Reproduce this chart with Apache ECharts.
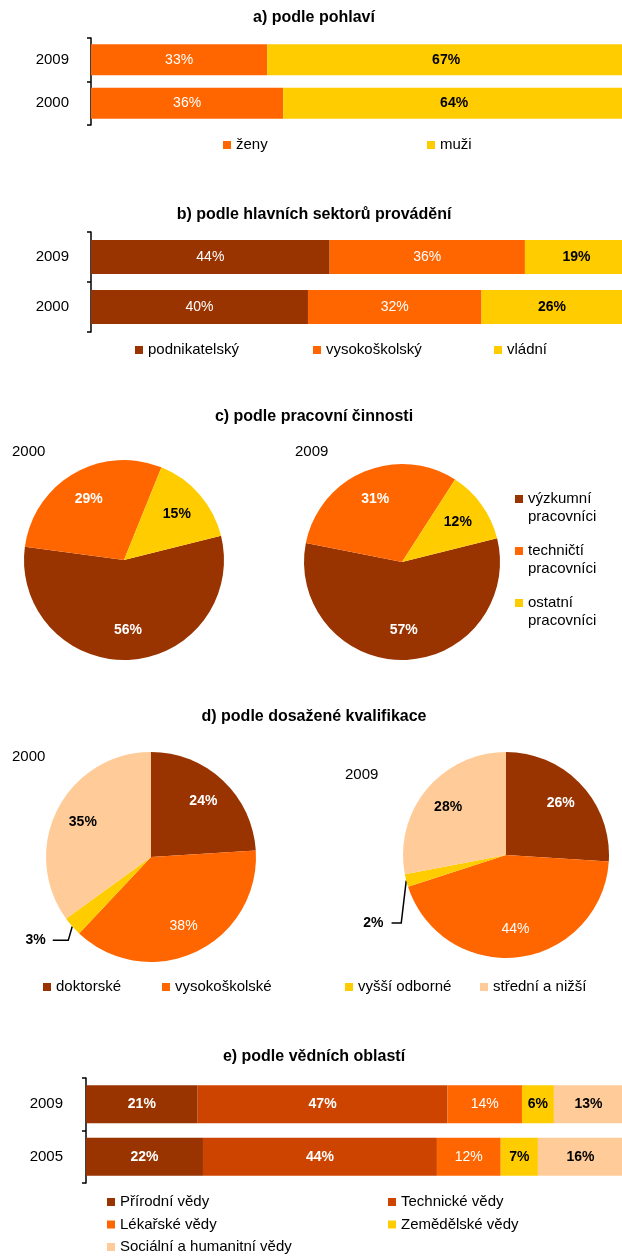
<!DOCTYPE html>
<html>
<head>
<meta charset="utf-8">
<script src="https://cdn.jsdelivr.net/npm/echarts@6/dist/echarts.min.js"></script>
<style>
html, body { margin: 0; padding: 0; background: #fff; }
#chart { width: 622px; height: 1256px; }
</style>
</head>
<body>
<div id="chart"></div>
<script>
// a) podle pohlaví
var yearsA = ['2009', '2000'];
var zeny = [33, 36];
var muzi = [67, 64];

// b) podle hlavních sektorů provádění
var yearsB = ['2009', '2000'];
var podnikatelsky = [44, 40];
var vysokoskolsky = [36, 32];
var vladni = [19, 26];

// c) podle pracovní činnosti
var namesC = ['výzkumní pracovníci', 'techničtí pracovníci', 'ostatní pracovníci'];
var cinnost2000 = [56, 29, 15];
var cinnost2009 = [57, 31, 12];

// d) podle dosažené kvalifikace
var namesD = ['doktorské', 'vysokoškolské', 'vyšší odborné', 'střední a nižší'];
var kvalifikace2000 = [24, 38, 3, 35];
var kvalifikace2009 = [26, 44, 2, 28];

// e) podle vědních oblastí
var yearsE = ['2009', '2005'];
var namesE = ['Přírodní vědy', 'Technické vědy', 'Lékařské vědy', 'Zemědělské vědy', 'Sociální a humanitní vědy'];
var vedy2009 = [21, 47, 14, 6, 13];
var vedy2005 = [22, 44, 12, 7, 16];

var BROWN = '#993300', RUST = '#CC4400', ORANGE = '#FF6600', YELLOW = '#FFCC00', PEACH = '#FFCC99';
var FONT = '"Liberation Sans", Arial, sans-serif';

var myChart = echarts.init(document.getElementById('chart'), null, {renderer: 'canvas'});

function txt(text, x, y, size, bold, align) {
    return {
        type: 'text', x: x, y: y, silent: true,
        style: {
            text: text, fill: '#000', align: align || 'left', verticalAlign: 'middle',
            font: (bold ? 'bold ' : '') + size + 'px ' + FONT
        }
    };
}

function legend(data, left, top, orient, gap, fmt) {
    return {
        data: data, left: left, top: top, orient: orient || 'horizontal',
        itemGap: gap || 0, padding: 0, icon: 'rect', itemWidth: 8, itemHeight: 8,
        selectedMode: false, formatter: fmt,
        textStyle: {fontSize: 15, color: '#000', fontFamily: FONT, lineHeight: 18}
    };
}

// longest stacked row, so each bar group fills the plot width
function rowTotal(rows) {
    return Math.max.apply(null, rows.map(function (row) {
        return row.reduce(function (s, v) { return s + v; }, 0);
    }));
}

function catAxis(idx, data, margin) {
    return {
        type: 'category', gridIndex: idx, data: data, inverse: true,
        axisLine: {lineStyle: {color: '#000', width: 1.5}},
        axisTick: {show: true, length: 4, lineStyle: {color: '#000', width: 1.5}},
        axisLabel: {color: '#000', fontSize: 15, margin: margin, fontFamily: FONT}
    };
}

function valAxis(idx, max) {
    return {type: 'value', gridIndex: idx, min: 0, max: max, show: false};
}

function barSeries(name, idx, data, color, width, labelColor, bold) {
    return {
        name: name, type: 'bar', stack: 'g' + idx, xAxisIndex: idx, yAxisIndex: idx,
        barWidth: width, data: data, itemStyle: {color: color}, silent: true,
        label: {
            show: true, position: 'inside', formatter: '{c}%', fontSize: 14,
            color: labelColor, fontWeight: bold ? 'bold' : 'normal', fontFamily: FONT
        }
    };
}

// pie: one series for the slices, a transparent ring on top of it for the labels
function pieSeries(values, names, colors, labelColors, bolds, center, r, startAngle, ring, small) {
    var main = {
        type: 'pie', center: center, radius: [0, r], startAngle: startAngle, silent: true,
        label: {show: false}, labelLine: {show: false},
        data: values.map(function (v, i) {
            return {name: names[i], value: v, itemStyle: {color: colors[i]}};
        })
    };
    var labels = {
        type: 'pie', center: center, radius: [r * ring, r], startAngle: startAngle, silent: true,
        itemStyle: {color: 'rgba(0,0,0,0)'},
        label: {show: true, position: 'inside', formatter: '{c}%', fontSize: 14, fontFamily: FONT},
        labelLine: {show: false},
        data: values.map(function (v, i) {
            var d = {value: v, label: {color: labelColors[i], fontWeight: bolds[i] ? 'bold' : 'normal'}};
            if (small && small.index === i) {
                d.label.position = 'outside';
                d.label.distanceToLabelLine = 3;
                d.labelLine = {show: true, length: small.length, length2: small.length2,
                    lineStyle: {color: '#000', width: 1.5}};
            }
            return d;
        })
    };
    if (small) {
        // leader line drops from the slice edge, then runs across to the label
        labels.labelLayout = function (p) {
            if (p.dataIndex !== small.index || !p.labelLinePoints) { return; }
            var edge = p.labelLinePoints[0];
            var rect = p.labelRect;
            var cy = rect.y + rect.height / 2 + small.dy;
            var right = rect.x + rect.width + small.dx;
            return {
                dx: small.dx, dy: small.dy,
                labelLinePoints: [edge, [edge[0] - small.drop, cy], [right + small.gap, cy]]
            };
        };
    }
    return [main, labels];
}

var colorsE = [BROWN, RUST, ORANGE, YELLOW, PEACH];
var labelColorsE = ['#fff', '#fff', '#fff', '#000', '#000'];
var boldE = [true, true, false, true, true];

var series = [
    barSeries('ženy', 0, zeny, ORANGE, 31, '#fff', false),
    barSeries('muži', 0, muzi, YELLOW, 31, '#000', true),
    barSeries('podnikatelský', 1, podnikatelsky, BROWN, 34, '#fff', false),
    barSeries('vysokoškolský', 1, vysokoskolsky, ORANGE, 34, '#fff', false),
    barSeries('vládní', 1, vladni, YELLOW, 34, '#000', true)
];
namesE.forEach(function (name, i) {
    series.push(barSeries(name, 2, [vedy2009[i], vedy2005[i]], colorsE[i], 38, labelColorsE[i], boldE[i]));
});
series = series
    .concat(pieSeries(cinnost2000, namesC, [BROWN, ORANGE, YELLOW], ['#fff', '#fff', '#000'],
        [true, true, true], [124, 560], 100, 14, 0.34))
    .concat(pieSeries(cinnost2009, namesC, [BROWN, ORANGE, YELLOW], ['#fff', '#fff', '#000'],
        [true, true, true], [402, 562], 98, 14, 0.34))
    .concat(pieSeries(kvalifikace2000, namesD, [BROWN, ORANGE, YELLOW, PEACH], ['#fff', '#fff', '#000', '#000'],
        [true, false, true, true], [151, 857], 105, 90, 0.4,
        {index: 2, length: 18, length2: 8, dx: -2, dy: 2, drop: 4, gap: 7}))
    .concat(pieSeries(kvalifikace2009, namesD, [BROWN, ORANGE, YELLOW, PEACH], ['#fff', '#fff', '#000', '#000'],
        [true, false, true, true], [506, 855], 103, 90, 0.4,
        {index: 2, length: 10, length2: 10, dx: 0, dy: 40, drop: 5, gap: 8}));

var option = {
    animation: false,
    backgroundColor: '#fff',
    textStyle: {fontFamily: FONT},
    graphic: [
        txt('a) podle pohlaví', 314, 18, 16, true, 'center'),
        txt('b) podle hlavních sektorů provádění', 314, 215, 16, true, 'center'),
        txt('c) podle pracovní činnosti', 314, 417, 16, true, 'center'),
        txt('d) podle dosažené kvalifikace', 314, 717, 16, true, 'center'),
        txt('e) podle vědních oblastí', 314, 1057, 16, true, 'center'),
        txt('2000', 12, 452, 15), txt('2009', 295, 452, 15),
        txt('2000', 12, 757, 15), txt('2009', 345, 775, 15)
    ],
    // plots run a few pixels past the right edge, as in the original
    grid: [
        {left: 91, top: 38, height: 87, width: 534, outerBoundsMode: 'none'},
        {left: 91, top: 232, height: 100, width: 537, outerBoundsMode: 'none'},
        {left: 86, top: 1078, height: 105, width: 537, outerBoundsMode: 'none'}
    ],
    yAxis: [catAxis(0, yearsA, 22), catAxis(1, yearsB, 22), catAxis(2, yearsE, 23)],
    xAxis: [
        valAxis(0, rowTotal([[zeny[0], muzi[0]], [zeny[1], muzi[1]]])),
        valAxis(1, rowTotal([[podnikatelsky[0], vysokoskolsky[0], vladni[0]],
            [podnikatelsky[1], vysokoskolsky[1], vladni[1]]])),
        valAxis(2, rowTotal([vedy2009, vedy2005]))
    ],
    legend: [
        legend(['ženy'], 223, 136), legend(['muži'], 427, 136),
        legend(['podnikatelský'], 135, 341), legend(['vysokoškolský'], 313, 341), legend(['vládní'], 494, 341),
        // two-line names: an empty first line keeps the marker on the first word
        legend(namesC, 515, 472, 'vertical', -2, function (n) { return '\n' + n.replace(' ', '\n'); }),
        legend(['doktorské'], 43, 978), legend(['vysokoškolské'], 162, 978),
        legend(['vyšší odborné'], 345, 978), legend(['střední a nižší'], 480, 978),
        legend(['Přírodní vědy', 'Lékařské vědy', 'Sociální a humanitní vědy'], 107, 1193, 'vertical', 4.5),
        legend(['Technické vědy', 'Zemědělské vědy'], 388, 1193, 'vertical', 4.5)
    ],
    series: series
};

myChart.setOption(option);
</script>
</body>
</html>
